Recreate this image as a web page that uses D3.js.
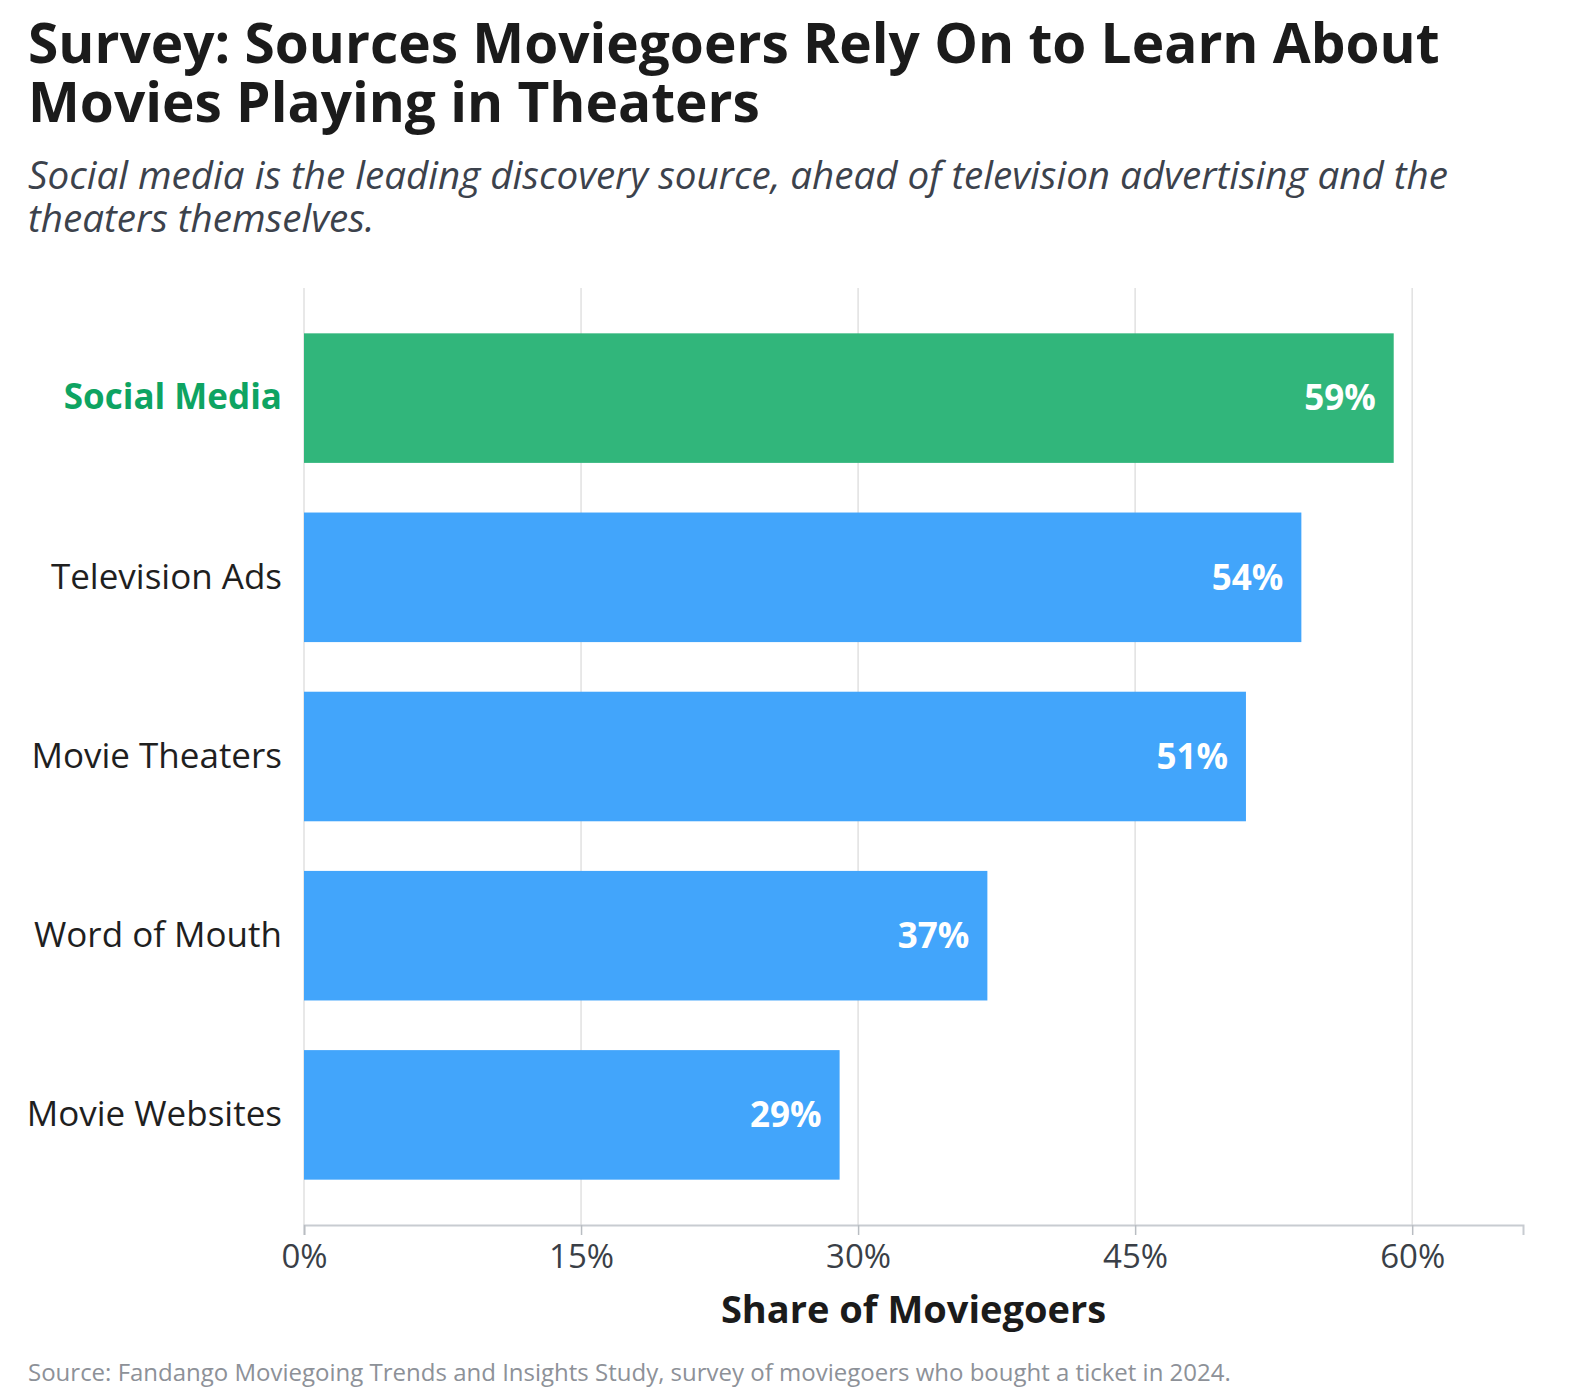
<!DOCTYPE html>
<html>
<head>
<meta charset="utf-8">
<script src="https://cdn.jsdelivr.net/npm/d3@7"></script>
<style>
  body { margin: 0; background: #fff; overflow: hidden; }
  svg { display: block; }
  svg text { font-family: "Open Sans", "Noto Sans", sans-serif; }
</style>
</head>
<body>
<div id="chart"></div>
<script>
// data
var categories = ["Social Media", "Television Ads", "Movie Theaters", "Word of Mouth", "Movie Websites"];
var shares = [59, 54, 51, 37, 29];
var tickValues = [0, 15, 30, 45, 60];
var highlight = "Social Media";
var titleLines = ["Survey: Sources Moviegoers Rely On to Learn About", "Movies Playing in Theaters"];
var subtitleLines = ["Social media is the leading discovery source, ahead of television advertising and the", "theaters themselves."];

var W = 1588, H = 1400;
var margin = {top: 288, right: 65, bottom: 175, left: 304};
var width = W - margin.left - margin.right,
    height = H - margin.top - margin.bottom;

var rows = categories.map(function (c, i) { return {name: c, value: shares[i]}; });

var svg = d3.select("#chart").append("svg")
  .attr("width", W)
  .attr("height", H);

// title + subtitle, one text per line
svg.append("g").selectAll("text")
  .data(titleLines)
  .enter().append("text")
  .attr("x", 28)
  .attr("y", function (d, i) { return 63 + i * 59; })
  .style("font-size", "55px").style("font-weight", 700)
  .attr("fill", "#1b1b1b")
  .text(function (d) { return d; });

svg.append("g").selectAll("text")
  .data(subtitleLines)
  .enter().append("text")
  .attr("x", 28)
  .attr("y", function (d, i) { return 189 + i * 43; })
  .style("font-size", "38.6px").style("font-style", "italic")
  .attr("fill", "#3c424c")
  .text(function (d) { return d; });

var g = svg.append("g")
  .attr("transform", "translate(" + margin.left + "," + margin.top + ")");

var x = d3.scaleLinear().domain([0, 66]).range([0, width]);
var y = d3.scaleBand().domain(categories).range([0, height])
  .paddingInner(0.277).paddingOuter(0.253);

// gridlines
g.append("g").selectAll("line")
  .data(tickValues)
  .enter().append("line")
  .attr("x1", function (d) { return x(d); })
  .attr("x2", function (d) { return x(d); })
  .attr("y1", 0).attr("y2", height)
  .attr("stroke", "#e1e1e1").attr("stroke-width", 1.5);

// bars
g.append("g").selectAll("rect")
  .data(rows)
  .enter().append("rect")
  .attr("x", 0)
  .attr("y", function (d) { return y(d.name); })
  .attr("width", function (d) { return x(d.value); })
  .attr("height", y.bandwidth())
  .attr("fill", function (d) { return d.name == highlight ? "#31b67b" : "#42a5fb"; });

// value labels inside bars
g.append("g").selectAll("text")
  .data(rows)
  .enter().append("text")
  .attr("x", function (d) { return x(d.value) - 18; })
  .attr("y", function (d) { return y(d.name) + y.bandwidth() / 2; })
  .attr("dy", "0.35em")
  .attr("text-anchor", "end")
  .style("font-size", "35px").style("font-weight", 700)
  .attr("fill", "#fff")
  .text(function (d) { return d.value + "%"; });

// category labels
var yAxis = g.append("g")
  .call(d3.axisLeft(y).tickSize(0).tickPadding(22));
yAxis.select(".domain").remove();
yAxis.selectAll("text")
  .style("font-size", "35px")
  .attr("fill", function (d) { return d == highlight ? "#0ea462" : "#1f1f1f"; })
  .style("font-weight", function (d) { return d == highlight ? 700 : 400; });

// x axis
var xAxis = g.append("g")
  .attr("transform", "translate(0," + height + ")")
  .call(d3.axisBottom(x).tickValues(tickValues).tickSize(10).tickPadding(10)
    .tickFormat(function (d) { return d + "%"; }));
xAxis.select(".domain").attr("stroke", "#c8ccd1").attr("stroke-width", 2);
xAxis.selectAll(".tick line").attr("stroke", "#b9bdc2").attr("stroke-width", 1.5);
xAxis.selectAll(".tick text")
  .style("font-size", "33px")
  .attr("fill", "#3a3f47");

svg.append("text")
  .attr("x", margin.left + width / 2).attr("y", 1323)
  .attr("text-anchor", "middle")
  .style("font-size", "38px").style("font-weight", 700)
  .attr("fill", "#1b1b1b")
  .text("Share of Moviegoers");

svg.append("text")
  .attr("x", 28).attr("y", 1381)
  .style("font-size", "24px")
  .attr("fill", "#8d9198")
  .text("Source: Fandango Moviegoing Trends and Insights Study, survey of moviegoers who bought a ticket in 2024.");
</script>
</body>
</html>
